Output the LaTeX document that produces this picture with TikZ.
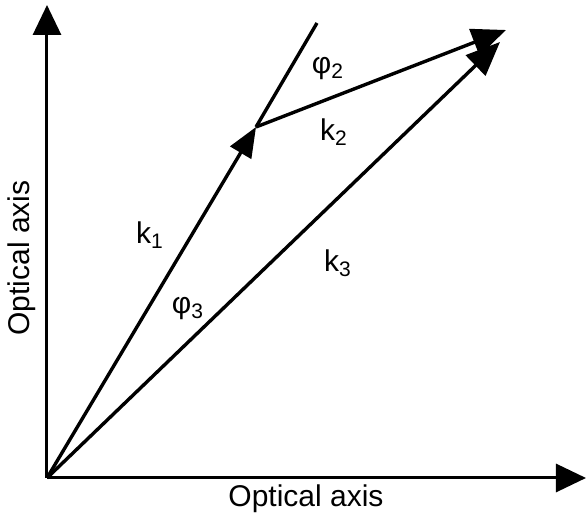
\documentclass[tikz,border=0pt]{standalone}
\usepackage{fontspec}
\setmainfont{Liberation Sans}
\usetikzlibrary{arrows.meta}

\tikzset{
  vec/.style={line width=1.7pt,-{Triangle[length=15pt,width=12pt]}},
  bigvec/.style={line width=1.7pt,-{Triangle[length=17pt,width=14pt]}},
  axis/.style={line width=1.5pt,-{Triangle[length=15pt,width=14pt]}},
  lbl/.style={font=\fontsize{15}{17}\selectfont,inner sep=0pt}
}

\begin{document}
\begin{tikzpicture}[x=0.5pt,y=-0.5pt]
  \useasboundingbox (0,0) rectangle (586,523);
  \coordinate (O) at (47,478);
  \coordinate (K) at (256,127);
  \coordinate (E) at (317,23);
  \coordinate (T2) at (506,30);
  \coordinate (T3) at (500,42);
  \coordinate (Xend) at (586,478);
  \coordinate (Yend) at (47,5);

  % axes
  \draw[axis] (O) -- (Xend);
  \draw[axis] (O) -- (Yend);
  \node[lbl] (xlab) at (306,499) {Optical axis};
  \node[lbl,rotate=90] (ylab) at (22,258) {Optical axis};

  % wave vectors
  \draw[vec] (O) -- (K);
  \draw[line width=1.7pt] (K) -- (E);
  \draw[bigvec] (K) -- (T2);
  \draw[bigvec] (O) -- (T3);

  \node[lbl] (k1) at (150,235) {k\textsubscript{1}};
  \node[lbl] (k2) at (334,132) {k\textsubscript{2}};
  \node[lbl] (k3) at (338,263) {k\textsubscript{3}};
  \node[lbl] (p2) at (328,69) {φ\textsubscript{2}};
  \node[lbl] (p3) at (188,309) {φ\textsubscript{3}};
\end{tikzpicture}
\end{document}
